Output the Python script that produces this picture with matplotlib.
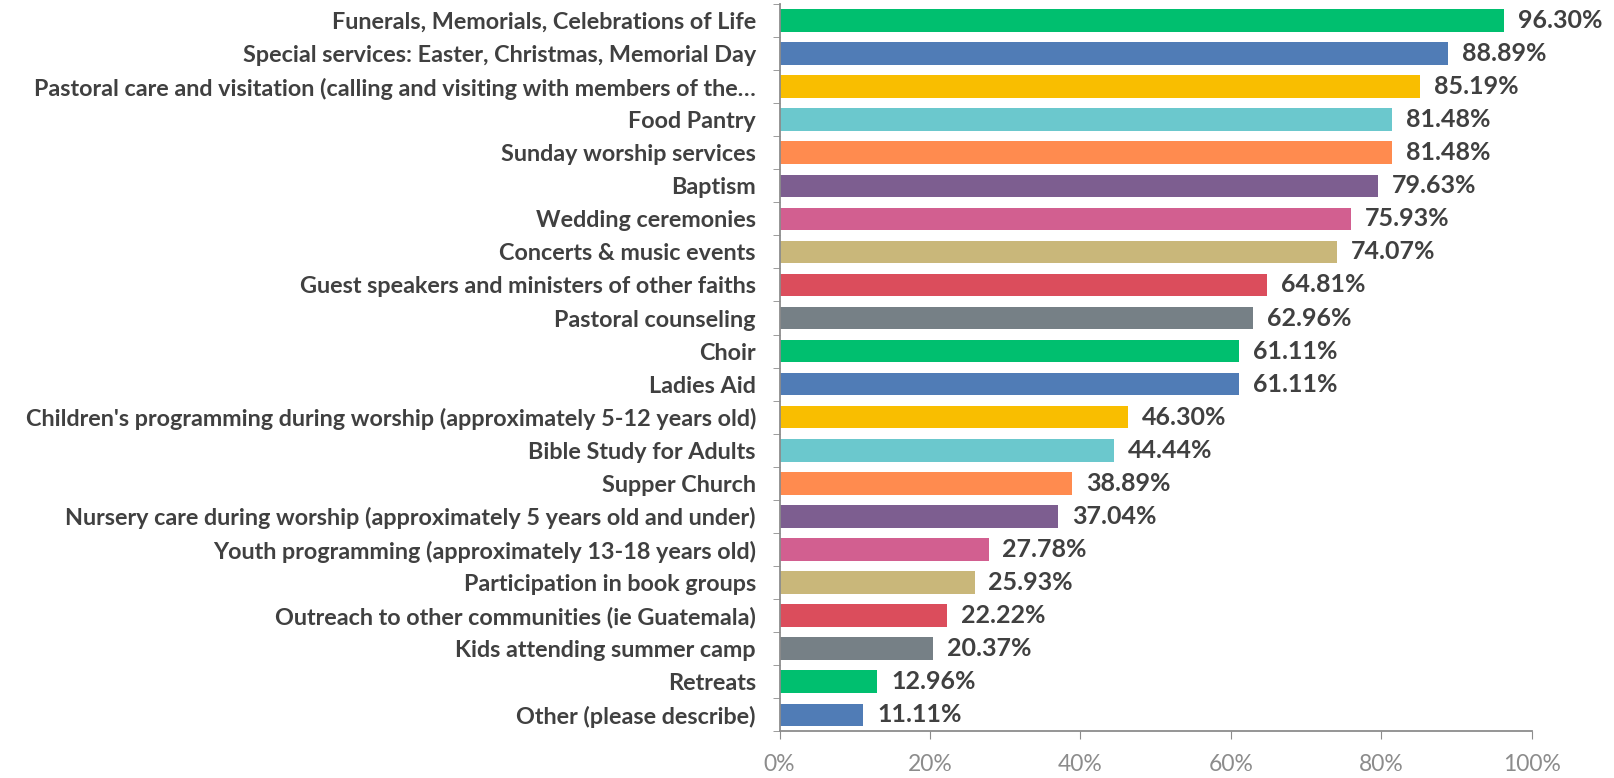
import matplotlib
matplotlib.use("Agg")
import matplotlib.pyplot as plt
import numpy as np

categories = [
    "Funerals, Memorials, Celebrations of Life",
    "Special services: Easter, Christmas, Memorial Day",
    "Pastoral care and visitation (calling and visiting with members of the\u2026",
    "Food Pantry",
    "Sunday worship services",
    "Baptism",
    "Wedding ceremonies",
    "Concerts & music events",
    "Guest speakers and ministers of other faiths",
    "Pastoral counseling",
    "Choir",
    "Ladies Aid",
    "Children's programming during worship (approximately 5-12 years old)",
    "Bible Study for Adults",
    "Supper Church",
    "Nursery care during worship (approximately 5 years old and under)",
    "Youth programming (approximately 13-18 years old)",
    "Participation in book groups",
    "Outreach to other communities (ie Guatemala)",
    "Kids attending summer camp",
    "Retreats",
    "Other (please describe)",
]
values = [96.30, 88.89, 85.19, 81.48, 81.48, 79.63, 75.93, 74.07, 64.81, 62.96,
          61.11, 61.11, 46.30, 44.44, 38.89, 37.04, 27.78, 25.93, 22.22, 20.37,
          12.96, 11.11]
palette = ["#00BF6F", "#507CB6", "#F9BE00", "#6BC8CD", "#FF8B4F",
           "#7D5E90", "#D25F90", "#C9B77A", "#DB4D5C", "#768086"]
xticks = [0, 20, 40, 60, 80, 100]
xticklabels = ["0%", "20%", "40%", "60%", "80%", "100%"]

plt.rcParams['font.family'] = ['Lato', 'DejaVu Sans']

fig = plt.figure(figsize=(16.14, 7.78), dpi=100)
ax = fig.add_axes([0.483, 0.060, 0.466, 0.935])

n = len(categories)
y = np.arange(n)
colors = [palette[i % len(palette)] for i in range(n)]
ax.barh(y, values, height=0.68, color=colors)
ax.set_ylim(n - 0.5, -0.5)
ax.set_xlim(0, 100)

for yi, v in zip(y, values):
    ax.annotate(f"{v:.2f}%", (v, yi), xytext=(10, 0), textcoords="offset points",
                va="center", ha="left", fontsize=18, fontweight="bold", color="#404040")

ax.set_yticks(y)
ax.set_yticklabels(categories, fontsize=16.8, fontweight="bold", color="#404040")
ax.set_yticks(np.arange(n + 1) - 0.5, minor=True)
ax.tick_params(axis="y", which="major", length=0, pad=17)
ax.tick_params(axis="y", which="minor", length=5, color="#8C8C8C", direction="out")
ax.set_xticks(xticks)
ax.set_xticklabels(xticklabels, fontsize=16.5, color="#8C8C8C")
ax.tick_params(axis="x", length=6, color="#8C8C8C", direction="out", pad=10)

for s in ["top", "right"]:
    ax.spines[s].set_visible(False)
for s in ["left", "bottom"]:
    ax.spines[s].set_color("#8C8C8C")
    ax.spines[s].set_linewidth(1.3)

fig.savefig("out.png", dpi=100)
